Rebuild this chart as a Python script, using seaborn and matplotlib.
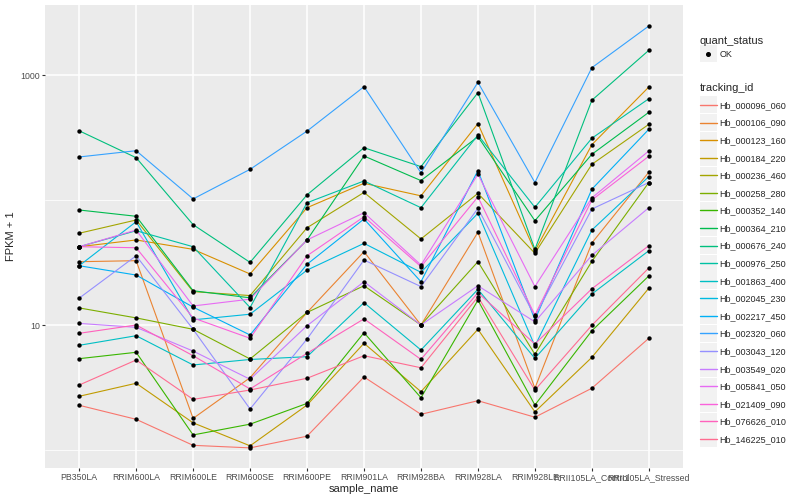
import matplotlib
matplotlib.use("Agg")
import matplotlib.pyplot as plt
import matplotlib.ticker as mticker
from matplotlib.lines import Line2D
from matplotlib.patches import Rectangle
from matplotlib.transforms import IdentityTransform
import pandas as pd
import seaborn as sns

samples = [
    "PB350LA", "RRIM600LA", "RRIM600LE", "RRIM600SE", "RRIM600PE", "RRIM901LA",
    "RRIM928BA", "RRIM928LA", "RRIM928LE", "RRII105LA_Control", "RRII105LA_Stressed",
]
tracking_ids = [
    "Hb_000096_060", "Hb_000106_090", "Hb_000123_160", "Hb_000184_220", "Hb_000236_460",
    "Hb_000258_280", "Hb_000352_140", "Hb_000364_210", "Hb_000676_240", "Hb_000976_250",
    "Hb_001863_400", "Hb_002045_230", "Hb_002217_450", "Hb_002320_060", "Hb_003043_120",
    "Hb_003549_020", "Hb_005841_050", "Hb_021409_090", "Hb_076626_010", "Hb_146225_010",
]

# FPKM + 1, one list per tracking id, in sample order
hb_000096_060 = [2.28, 1.76, 1.09, 1.04, 1.29, 3.84, 1.93, 2.48, 1.83, 3.12, 7.83]
hb_000106_090 = [32.1, 32.7, 1.79, 3.79, 12.6, 38.6, 10.0, 55.2, 3.12, 45.3, 167]
hb_000123_160 = [42.3, 47.9, 40.3, 25.6, 86.8, 136, 108, 408, 39.1, 277, 802]
hb_000184_220 = [2.69, 3.42, 1.65, 1.08, 2.29, 7.14, 2.93, 9.24, 2.02, 5.51, 19.7]
hb_000236_460 = [54.2, 69.2, 18.5, 17.2, 60.0, 115, 48.8, 113, 37.5, 193, 403]
hb_000258_280 = [13.7, 11.4, 9.24, 5.35, 12.6, 20.6, 10.0, 32.1, 5.83, 32.3, 138]
hb_000352_140 = [5.38, 6.05, 1.32, 1.61, 2.36, 8.68, 2.62, 15.8, 2.29, 9.00, 24.7]
hb_000364_210 = [83.2, 74.1, 18.8, 16.5, 47.9, 225, 143, 321, 68.3, 232, 503]
hb_000676_240 = [358, 218, 63.5, 31.7, 110, 262, 185, 722, 40.3, 628, 1576]
hb_000976_250 = [42.3, 56.8, 42.3, 13.8, 95.1, 142, 86.8, 331, 87.4, 312, 646]
hb_001863_400 = [6.88, 8.21, 4.79, 5.30, 5.58, 15.1, 6.31, 19.3, 5.41, 17.7, 39.3]
hb_002045_230 = [29.8, 67.1, 11.0, 12.2, 27.5, 45.0, 26.4, 78.3, 6.79, 57.5, 154]
hb_002217_450 = [29.8, 25.1, 13.9, 8.32, 30.6, 70.5, 22.2, 172, 11.0, 122, 368]
hb_002320_060 = [221, 248, 102, 176, 356, 806, 165, 874, 138, 1144, 2466]
hb_003043_120 = [16.4, 35.8, 9.24, 2.13, 7.73, 33.1, 20.3, 85.8, 11.7, 84.7, 138]
hb_003549_020 = [10.3, 9.58, 6.19, 3.68, 9.87, 22.2, 10.0, 20.6, 10.6, 36.1, 86.8]
hb_005841_050 = [42.3, 57.5, 14.2, 16.1, 47.9, 79.1, 30.2, 161, 20.3, 104, 247]
hb_021409_090 = [42.3, 41.5, 11.4, 7.83, 35.8, 73.5, 29.3, 106, 12.0, 100, 224]
hb_076626_010 = [8.58, 10.0, 5.68, 3.08, 5.94, 11.2, 5.31, 18.1, 7.05, 19.5, 43.1]
hb_146225_010 = [3.31, 5.25, 2.54, 3.02, 3.75, 5.68, 4.55, 16.8, 3.02, 9.95, 28.6]

series = [
    hb_000096_060, hb_000106_090, hb_000123_160, hb_000184_220, hb_000236_460,
    hb_000258_280, hb_000352_140, hb_000364_210, hb_000676_240, hb_000976_250,
    hb_001863_400, hb_002045_230, hb_002217_450, hb_002320_060, hb_003043_120,
    hb_003549_020, hb_005841_050, hb_021409_090, hb_076626_010, hb_146225_010,
]

# ggplot2 default hue palette for 20 levels
palette = [
    "#F8766D", "#EA8331", "#D89000", "#C09B00", "#A3A500", "#7CAE00", "#39B600",
    "#00BB4E", "#00BF7D", "#00C1A3", "#00BFC4", "#00BAE0", "#00B0F6", "#35A2FF",
    "#9590FF", "#C77CFF", "#E76BF3", "#FA62DB", "#FF62BC", "#FF6C91",
]

rows = []
for tid, vals in zip(tracking_ids, series):
    for s, v in zip(samples, vals):
        rows.append({"tracking_id": tid, "sample_name": s, "fpkm1": v, "quant_status": "OK"})
df = pd.DataFrame(rows)

sns.set_theme(
    style="darkgrid",
    rc={
        "axes.facecolor": "#EBEBEB",
        "grid.color": "white",
        "axes.edgecolor": "#EBEBEB",
        "xtick.color": "#333333",
        "ytick.color": "#333333",
    },
)
plt.rcParams["font.family"] = ["Liberation Sans", "DejaVu Sans"]

fig = plt.figure(figsize=(8, 5), dpi=100)
ax = fig.add_axes([45 / 800, 32 / 500, 638 / 800, 463 / 500])

sns.lineplot(
    data=df, x="sample_name", y="fpkm1", hue="tracking_id", hue_order=tracking_ids,
    palette=palette, estimator=None, sort=False, linewidth=0.8, legend=False, ax=ax,
)
sns.scatterplot(
    data=df, x="sample_name", y="fpkm1", color="black", s=10, linewidth=0,
    legend=False, ax=ax, zorder=5,
)

ax.set_yscale("log")
ax.set_ylim(0.718, 3631)
ax.set_xlim(-0.6, len(samples) - 0.4)
ax.yaxis.set_major_locator(mticker.FixedLocator([10, 1000]))
ax.yaxis.set_major_formatter(mticker.FixedFormatter(["10", "1000"]))
ax.yaxis.set_minor_locator(mticker.FixedLocator([1, 100]))
ax.yaxis.set_minor_formatter(mticker.NullFormatter())
ax.grid(which="major", color="white", linewidth=1.1)
ax.grid(which="minor", axis="y", color="white", linewidth=0.55)
ax.tick_params(which="major", length=2.2, width=0.8, color="#333333",
               labelsize=6.3, labelcolor="#4D4D4D", pad=1.5)
ax.tick_params(which="minor", length=0)
ax.tick_params(axis="x", bottom=True)
ax.tick_params(axis="y", left=True)
ax.set_xlabel("sample_name", fontsize=8, labelpad=1)
ax.set_ylabel("FPKM + 1", fontsize=8, labelpad=3)
for sp in ax.spines.values():
    sp.set_visible(False)

status_handles = [Line2D([], [], marker="o", color="black", ls="", ms=2.6)]
leg1 = fig.legend(
    status_handles, ["OK"], title="quant_status", loc="upper left",
    bbox_to_anchor=(695 / 800, 1 - 31 / 500), frameon=False, fontsize=6.5,
    title_fontsize=8, handlelength=1.9, handletextpad=0.3, borderpad=0,
    alignment="left",
)
id_handles = [Line2D([], [], color=c, lw=1.0) for c in palette]
leg2 = fig.legend(
    id_handles, tracking_ids, title="tracking_id", loc="upper left",
    bbox_to_anchor=(695 / 800, 1 - 78 / 500), frameon=False, fontsize=6.5,
    title_fontsize=8, handlelength=1.9, handletextpad=0.3, labelspacing=0.95,
    borderpad=0, alignment="left",
)

# grey key boxes behind the legend handles, like ggplot
fig.canvas.draw()
renderer = fig.canvas.get_renderer()
for leg in (leg1, leg2):
    for h in leg.legend_handles:
        bb = h.get_window_extent(renderer)
        cx, cy = (bb.x0 + bb.x1) / 2, (bb.y0 + bb.y1) / 2
        fig.patches.append(Rectangle(
            (cx - 8.5, cy - 8.5), 17, 17, transform=IdentityTransform(),
            facecolor="#F2F2F2", edgecolor="none", zorder=0,
        ))

fig.savefig("out.png", dpi=100)
